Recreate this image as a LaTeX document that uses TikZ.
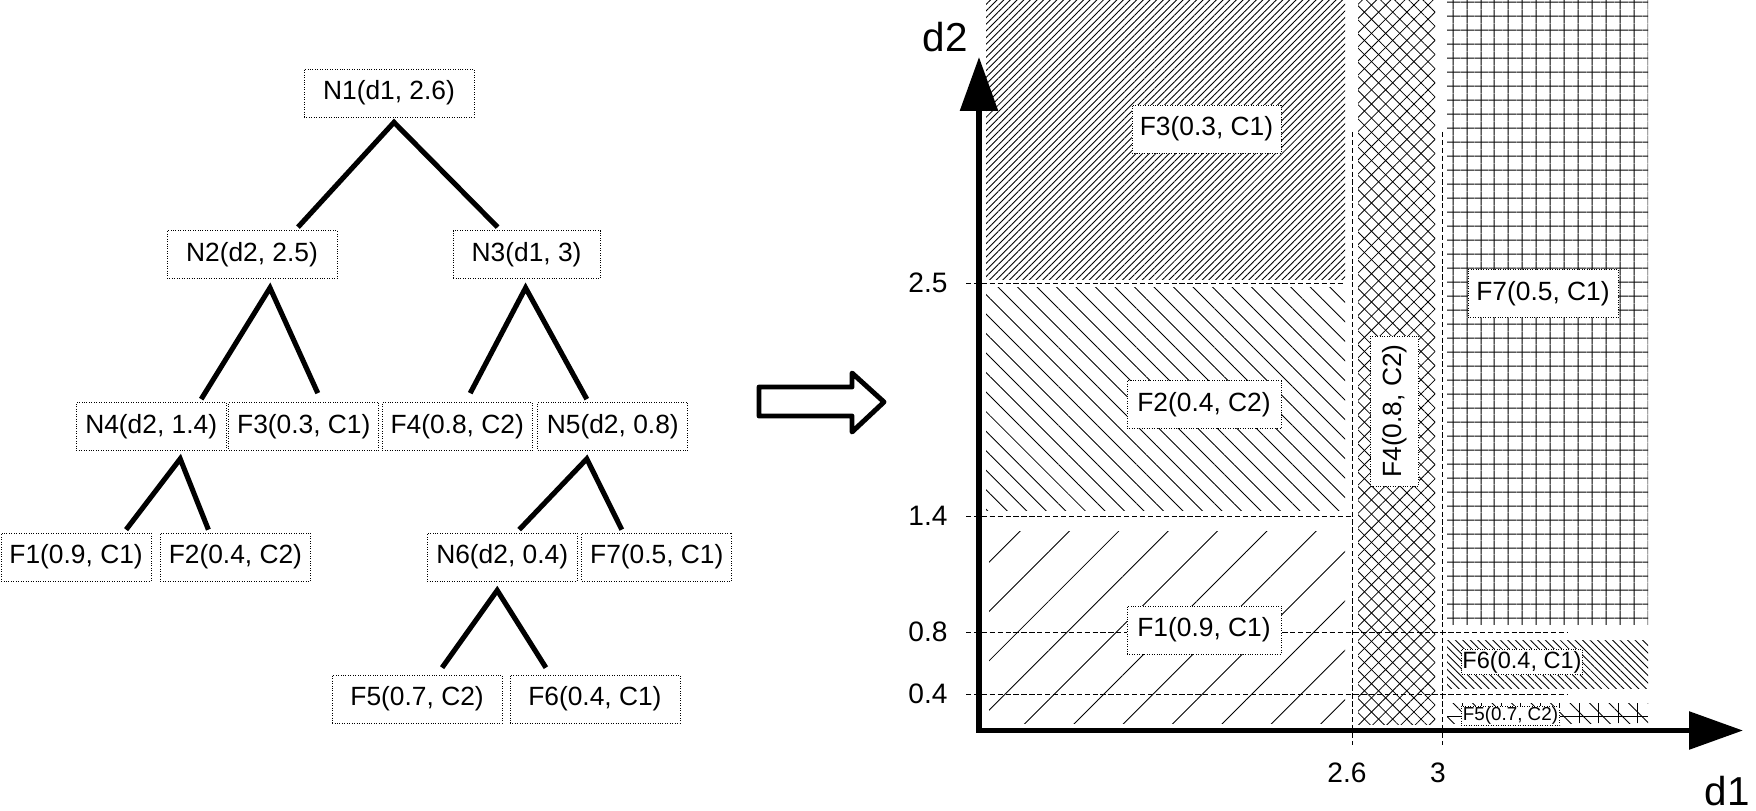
\documentclass[tikz,border=0pt]{standalone}
\usepackage{fontspec}
\setmainfont{Liberation Sans}
\usetikzlibrary{arrows.meta,calc,patterns.meta}

\begin{document}
\begin{tikzpicture} [x=0.02cm,y=-0.02cm,
  every node/.style={font=\fontsize{15}{18}\selectfont},
  box/.style={draw,densely dotted,line width=0.4pt,fill=white,inner sep=0pt,minimum width=3cm,minimum height=0.96cm},
  branch/.style={line width=2.9pt},
  cut/.style={dash pattern=on 3pt off 1.5pt,line width=0.5pt},
  axis/.style={line width=3.3pt,{Triangle[length=1.08cm,width=0.74cm]}-{Triangle[length=1.08cm,width=0.74cm]}},
  tick/.style={font=\fontsize{16}{19}\selectfont},
  big/.style={font=\fontsize{23}{28}\selectfont}]

  \useasboundingbox (0,0) rectangle (1756,811);

  \node[box,minimum width=3.4cm] (n1) at (389,93) {N1(d1, 2.6)};
  \node[box,minimum width=3.4cm] (n2) at (252,254.5) {N2(d2, 2.5)};
  \node[box,minimum width=2.94cm] (n3) at (526.6,254.5) {N3(d1, 3)};
  \node[box] (n4) at (151.2,426.5) {N4(d2, 1.4)};
  \node[box] (f3) at (303.8,426.5) {F3(0.3, C1)};
  \node[box] (f4) at (457.2,426.5) {F4(0.8, C2)};
  \node[box] (n5) at (612.8,426.5) {N5(d2, 0.8)};
  \node[box] (f1) at (76.1,557) {F1(0.9, C1)};
  \node[box] (f2) at (235.4,557) {F2(0.4, C2)};
  \node[box] (n6) at (502.2,557) {N6(d2, 0.4)};
  \node[box] (f7) at (656.8,557) {F7(0.5, C1)};
  \node[box,minimum width=3.4cm] (f5) at (417.1,699) {F5(0.7, C2)};
  \node[box,minimum width=3.4cm] (f6) at (594.9,699) {F6(0.4, C1)};

  \draw[branch] ($(n2.north)+(46,-3)$) -- ($(n1.south)+(5,5)$) -- ($(n3.north)+(-29,-3)$);
  \draw[branch] ($(n4.north)+(50,-3)$) -- ($(n2.south)+(18,9)$) -- ($(f3.north)+(14,-9)$);
  \draw[branch] ($(f4.north)+(13,-9)$) -- ($(n3.south)+(-1,9)$) -- ($(n5.north)+(-26,-3)$);
  \draw[branch] ($(f1.north)+(50,-3)$) -- ($(n4.south)+(29,8)$) -- ($(f2.north)+(-27,-3)$);
  \draw[branch] ($(n6.north)+(17,-3)$) -- ($(n5.south)+(-26,8)$) -- ($(f7.north)+(-35,-3)$);
  \draw[branch] ($(f5.north)+(25,-7)$) -- ($(n6.south)+(-5,9)$) -- ($(f6.north)+(-49,-7)$);

  \draw[line width=2.8pt,line join=round] (759,387) -- (852,387) -- (852,373) -- (884,402)
    -- (852,432) -- (852,416) -- (759,416) -- cycle;

  \fill[pattern={Lines[angle=45,distance=0.094cm,line width=0.5pt]}] (986,0) rectangle (1345,279);
  \fill[pattern={Lines[angle=-45,distance=0.276cm,line width=0.5pt]}] (986,287) rectangle (1345,510);
  \fill[pattern={Lines[angle=45,distance=0.698cm,line width=0.5pt]}] (989,531) rectangle (1345,723);
  \fill[pattern={Lines[angle=45,distance=0.2cm,line width=0.45pt]}] (1358,0) rectangle (1435,724);
  \fill[pattern={Lines[angle=-45,distance=0.2cm,line width=0.45pt]}] (1358,0) rectangle (1435,724);
  \fill[pattern={Lines[angle=0,distance=0.277cm,line width=0.6pt]}] (1447,0) rectangle (1648,624);
  \fill[pattern={Lines[angle=90,distance=0.277cm,line width=0.6pt]}] (1447,0) rectangle (1648,624);
  \fill[pattern={Lines[angle=-45,distance=0.106cm,line width=0.5pt]}] (1447,640) rectangle (1648,688);
  \fill[pattern={Lines[angle=90,distance=0.39cm,line width=0.5pt]}] (1447,703) rectangle (1648,723);
  \fill[pattern={Lines[angle=-45,distance=0.276cm,line width=0.5pt]}] (1447,703) rectangle (1648,723);
  \draw[line width=0.5pt] (1447,716) -- (1648,716);

  \draw[cut] (966,283) -- (1345,283);
  \draw[cut] (966,516) -- (1351,516);
  \draw[cut] (966,632) -- (1567,632);
  \draw[cut] (966,694) -- (1567,694);
  \draw[cut] (1352,132) -- (1352,745);
  \draw[cut] (1442,132) -- (1442,745);

  \node[box,minimum width=2.98cm] (r3) at (1206.5,129) {F3(0.3, C1)};
  \node[box,minimum width=3.08cm] (r2) at (1204,404.5) {F2(0.4, C2)};
  \node[box,minimum width=3.08cm] (r1) at (1204,630) {F1(0.9, C1)};
  \node[box] (r7) at (1543,293.5) {F7(0.5, C1)};
  \node[box,rotate=90] (r4) at (1394.5,411) {F4(0.8, C2)};
  \node[box,minimum width=0pt,minimum height=0pt,inner xsep=0.5pt,inner ysep=1pt,
    font=\fontsize{13.4}{16}\selectfont] (r6) at (1522,662) {F6(0.4, C1)};
  \node[box,minimum width=0pt,minimum height=0pt,inner xsep=1pt,inner ysep=0.5pt,
    font=\fontsize{10.7}{13}\selectfont] (r5) at (1510.5,715.5) {F5(0.7, C2)};

  \node[tick] (t25) at (928,283) {2.5};
  \node[tick] (t14) at (928,516) {1.4};
  \node[tick] (t08) at (928,632) {0.8};
  \node[tick] (t04) at (928,694) {0.4};
  \node[tick] (t26) at (1347,773) {2.6};
  \node[tick] (t3) at (1438,773) {3};

  \draw[axis] (979,57) -- (979,730.5) -- (1743,730.5);

  \node[big] (d2) at (945,37) {d2};
  \node[big,inner sep=0pt] (d1) at (1727,791) {d1};

\end{tikzpicture}
\end{document}
